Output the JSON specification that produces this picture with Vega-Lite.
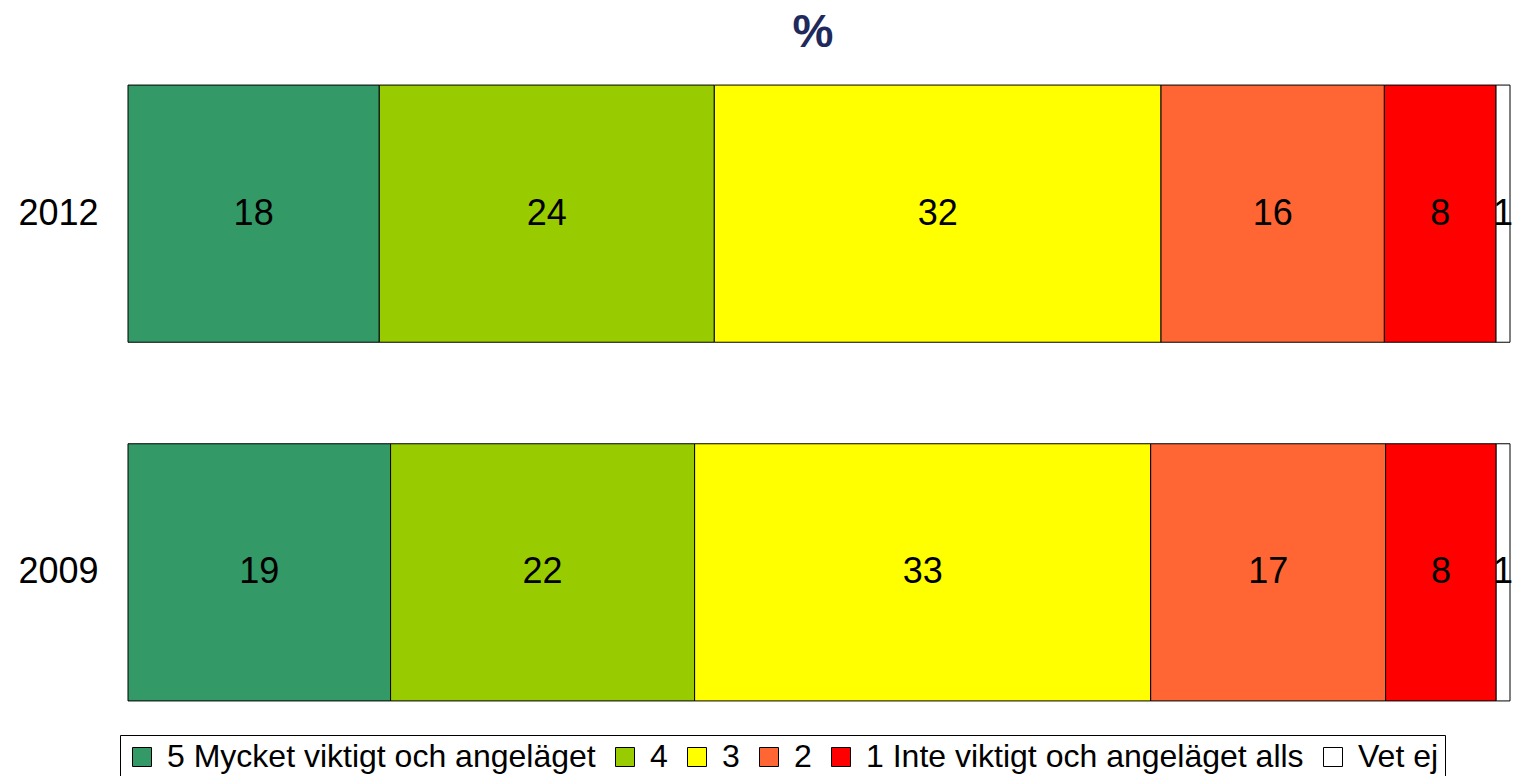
{
  "$schema": "https://vega.github.io/schema/vega-lite/v6.json",
  "width": 1382,
  "height": 646,
  "autosize": {"type": "none"},
  "padding": {"left": 128, "top": 70, "right": 3, "bottom": 60},
  "title": {"text": "%", "fontSize": 46, "font": "Liberation Sans", "fontWeight": "bold", "color": "#1F2A5C", "anchor": "middle", "offset": 13, "dx": -6},
  "data": {"values": [
    {"year": "2012", "cat": "5 Mycket viktigt och angeläget", "k": 1, "value": 18},
    {"year": "2012", "cat": "4", "k": 2, "value": 24},
    {"year": "2012", "cat": "3", "k": 3, "value": 32},
    {"year": "2012", "cat": "2", "k": 4, "value": 16},
    {"year": "2012", "cat": "1 Inte viktigt och angeläget alls", "k": 5, "value": 8},
    {"year": "2012", "cat": "Vet ej", "k": 6, "value": 1},
    {"year": "2009", "cat": "5 Mycket viktigt och angeläget", "k": 1, "value": 19},
    {"year": "2009", "cat": "4", "k": 2, "value": 22},
    {"year": "2009", "cat": "3", "k": 3, "value": 33},
    {"year": "2009", "cat": "2", "k": 4, "value": 17},
    {"year": "2009", "cat": "1 Inte viktigt och angeläget alls", "k": 5, "value": 8},
    {"year": "2009", "cat": "Vet ej", "k": 6, "value": 1}
  ]},
  "encoding": {
    "y": {"field": "year", "type": "nominal", "sort": ["2012", "2009"],
      "scale": {"paddingInner": 0.283, "paddingOuter": 0.042},
      "axis": {"title": null, "domain": false, "ticks": false, "labelPadding": 30, "labelFontSize": 36, "labelFont": "Liberation Sans", "labelColor": "black"}},
    "order": {"field": "k", "type": "quantitative"}
  },
  "layer": [
    {
      "mark": {"type": "bar", "stroke": "black", "strokeWidth": 1},
      "encoding": {
        "x": {"field": "value", "type": "quantitative", "stack": "normalize", "axis": null},
        "color": {"field": "cat", "type": "nominal",
          "sort": ["5 Mycket viktigt och angeläget", "4", "3", "2", "1 Inte viktigt och angeläget alls", "Vet ej"],
          "scale": {"domain": ["5 Mycket viktigt och angeläget", "4", "3", "2", "1 Inte viktigt och angeläget alls", "Vet ej"],
                    "range": ["#339966", "#99CC00", "#FFFF00", "#FF6633", "#FF0000", "#FFFFFF"]},
          "legend": {"orient": "none", "legendX": -8, "legendY": 665, "direction": "horizontal", "columns": 6, "title": null,
            "symbolType": "square", "symbolSize": 361, "symbolStrokeColor": "black", "symbolStrokeWidth": 1,
            "labelFontSize": 32, "labelFont": "Liberation Sans", "labelColor": "black", "labelLimit": 800,
            "strokeColor": "black", "padding": 6, "columnPadding": 13, "labelOffset": 9}}
      }
    },
    {
      "mark": {"type": "text", "fontSize": 36, "font": "Liberation Sans", "color": "black", "baseline": "middle"},
      "encoding": {
        "x": {"field": "value", "type": "quantitative", "stack": "normalize", "bandPosition": 0.5},
        "detail": {"field": "cat"},
        "text": {"field": "value", "type": "quantitative"}
      }
    }
  ],
  "config": {"view": {"stroke": null}}
}
